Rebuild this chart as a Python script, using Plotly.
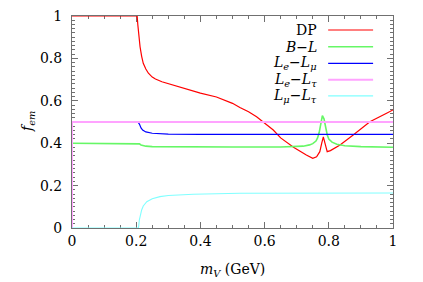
import plotly.graph_objects as go

# ---- data ----
dp_x = [0, 0.2, 0.203, 0.205, 0.208, 0.212, 0.217, 0.222, 0.23, 0.238, 0.25, 0.26, 0.28,
        0.3, 0.33, 0.36, 0.4, 0.45, 0.5, 0.523, 0.55, 0.575, 0.6, 0.627, 0.65, 0.69, 0.73,
        0.75, 0.762, 0.772, 0.778, 0.783, 0.788, 0.795, 0.805, 0.835, 0.876, 0.928, 0.98, 1.0]
dp_y = [1, 1, 1, 0.96, 0.91, 0.855, 0.81, 0.777, 0.75, 0.73, 0.712, 0.703, 0.69,
        0.681, 0.667, 0.652, 0.636, 0.618, 0.588, 0.568, 0.548, 0.525, 0.494, 0.462, 0.425, 0.381, 0.344,
        0.329, 0.336, 0.36, 0.40, 0.43, 0.40, 0.36, 0.365, 0.392, 0.439, 0.501, 0.541, 0.557]

bl_x = [0, 0.205, 0.21, 0.215, 0.22, 0.23, 0.25, 0.3, 0.5, 0.65, 0.7, 0.72, 0.74, 0.75,
        0.76, 0.765, 0.77, 0.775, 0.78, 0.785, 0.79, 0.795, 0.8, 0.81, 0.825, 0.85, 0.9, 1.0]
bl_y = [0.4, 0.4, 0.397, 0.392, 0.389, 0.386, 0.384, 0.383, 0.382, 0.382, 0.384, 0.386, 0.392, 0.398,
        0.41, 0.425, 0.45, 0.49, 0.53, 0.515, 0.47, 0.44, 0.42, 0.405, 0.395, 0.388, 0.384, 0.381]

emu_x = [0, 0, 0.205, 0.21, 0.215, 0.22, 0.23, 0.25, 0.3, 0.4, 1.0]
emu_y = [0, 0.5, 0.5, 0.49, 0.472, 0.462, 0.453, 0.447, 0.443, 0.442, 0.442]

etau_x = [0, 0, 1.0]
etau_y = [0, 0.5, 0.5]

mutau_x = [0, 0.205, 0.207, 0.21, 0.213, 0.217, 0.222, 0.233, 0.25, 0.274, 0.3, 0.378, 0.523, 0.7, 1.0]
mutau_y = [0, 0, 0.0, 0.04, 0.065, 0.085, 0.104, 0.124, 0.138, 0.148, 0.153, 0.159, 0.164, 0.165, 0.165]

series_names = ["DP", "<i>B</i>\u2212<i>L</i>",
                "<i>L<sub>e</sub></i>\u2212<i>L<sub>\u03bc</sub></i>",
                "<i>L<sub>e</sub></i>\u2212<i>L<sub>\u03c4</sub></i>",
                "<i>L<sub>\u03bc</sub></i>\u2212<i>L<sub>\u03c4</sub></i>"]
series_colors = ["#ff0000", "#66f766", "#0000ff", "#ffa3ff", "#80ffff"]
series_widths = [1.2, 1.6, 1.2, 2.0, 1.1]
series_x = [dp_x, bl_x, emu_x, etau_x, mutau_x]
series_y = [dp_y, bl_y, emu_y, etau_y, mutau_y]

x_ticks = [0, 0.2, 0.4, 0.6, 0.8, 1]
x_ticklabels = ["0", "0.2", "0.4", "0.6", "0.8", "1"]
y_ticks = [0, 0.2, 0.4, 0.6, 0.8, 1]
y_ticklabels = ["0", "0.2", "0.4", "0.6", "0.8", "1"]
x_title = "<i>m<sub>V</sub></i> (GeV)"
y_title = "<i>f<sub>em</sub></i>"

FONT = "DejaVu Serif, Liberation Serif, serif"

fig = go.Figure()
for xs, ys, name, col, w in zip(series_x, series_y, series_names, series_colors, series_widths):
    fig.add_trace(go.Scatter(x=xs, y=ys, mode="lines", name=name,
                             line=dict(color=col, width=w), showlegend=False))

# manual legend: text on the left, line sample on the right
leg_y = [0.934, 0.855, 0.777, 0.699, 0.623]
for yy, name, col, w in zip(leg_y, series_names, series_colors, series_widths):
    fig.add_annotation(x=0.768, y=yy, xref="x domain", yref="y domain", text=name,
                       showarrow=False, xanchor="right", yanchor="middle",
                       font=dict(family=FONT, size=14, color="black"))
    fig.add_shape(type="line", xref="x domain", yref="y domain",
                  x0=0.798, x1=0.938, y0=yy, y1=yy, line=dict(color=col, width=w))

# axis titles
fig.add_annotation(x=0.5, y=-0.198, xref="x domain", yref="y domain", text=x_title,
                   showarrow=False, xanchor="center", yanchor="middle",
                   font=dict(family=FONT, size=14, color="black"))
fig.add_annotation(x=-0.137, y=0.5, xref="x domain", yref="y domain", text=y_title,
                   showarrow=False, xanchor="center", yanchor="middle", textangle=-90,
                   font=dict(family=FONT, size=14, color="black"))

axis_common = dict(showline=True, linecolor="#707070", linewidth=1, mirror="ticks",
                   ticks="inside", tickcolor="#707070", ticklen=6, tickwidth=1,
                   showgrid=False, zeroline=False, layer="below traces", automargin=False,
                   tickfont=dict(family=FONT, size=14, color="black"))

fig.update_xaxes(range=[0, 1], tickvals=x_ticks, ticktext=x_ticklabels,
                 minor=dict(ticks="inside", dtick=0.05, ticklen=3, tickcolor="#707070", showgrid=False),
                 **axis_common)
fig.update_yaxes(range=[0, 1], tickvals=y_ticks, ticktext=y_ticklabels,
                 minor=dict(ticks="inside", dtick=0.02, ticklen=3, tickcolor="#707070", showgrid=False),
                 ticklabelstandoff=6,
                 **axis_common)

fig.update_layout(width=423, height=282, margin=dict(l=72, r=30, t=16, b=54),
                  plot_bgcolor="white", paper_bgcolor="white", showlegend=False,
                  font=dict(family=FONT))

fig.write_html("out.html", config={"displayModeBar": False},
               post_script="document.body.style.margin='0';document.body.style.padding='0';")
